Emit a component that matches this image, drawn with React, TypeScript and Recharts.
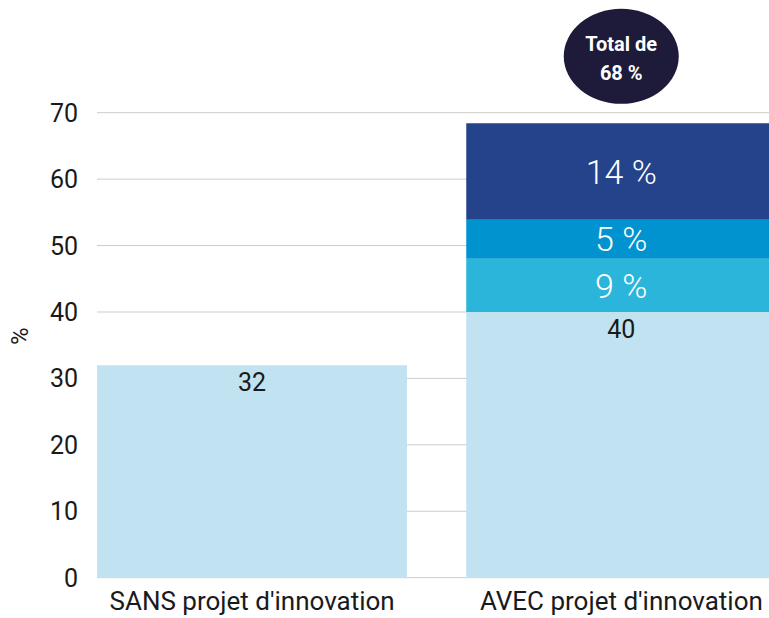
import React from 'react';
import { BarChart, Bar, XAxis, YAxis, CartesianGrid, LabelList } from 'recharts';

const categories = ["SANS projet d'innovation", "AVEC projet d'innovation"];
const baseValues = [32, 40];
const segAValues: (number | null)[] = [null, 8];
const segBValues: (number | null)[] = [null, 5.9];
const segCValues: (number | null)[] = [null, 14.5];
const segALabels: (number | null)[] = [null, 9];
const segBLabels: (number | null)[] = [null, 5];
const segCLabels: (number | null)[] = [null, 14];
const yTicks = [0, 10, 20, 30, 40, 50, 60, 70];

const data = categories.map((cat, i) => ({
  cat,
  base: baseValues[i],
  a: segAValues[i],
  b: segBValues[i],
  c: segCValues[i],
  aL: segALabels[i],
  bL: segBLabels[i],
  cL: segCLabels[i],
  total:
    segCLabels[i] == null
      ? null
      : baseValues[i] + (segALabels[i] ?? 0) + (segBLabels[i] ?? 0) + (segCLabels[i] ?? 0),
}));

const TEXT = '#1a1a1a';

function box(props: any) {
  const v = props.viewBox && props.viewBox.width != null ? props.viewBox : props;
  return { x: Number(v.x), y: Number(v.y), width: Number(v.width), height: Number(v.height) };
}

const BaseLabel = (props: any) => {
  if (props.value == null) return null;
  const b = box(props);
  return (
    <text x={b.x + b.width / 2} y={b.y + 26} textAnchor="middle" fontSize={25} fill={TEXT}>
      {props.value}
    </text>
  );
};

const SegLabel = (props: any) => {
  if (props.value == null) return null;
  const b = box(props);
  return (
    <text
      x={b.x + b.width / 2}
      y={b.y + b.height / 2}
      dy="0.36em"
      textAnchor="middle"
      fontSize={34}
      fontWeight={300}
      fill="#ffffff"
    >
      {props.value} %
    </text>
  );
};

const TotalBubble = (props: any) => {
  if (props.value == null) return null;
  const b = box(props);
  const cx = b.x + b.width / 2;
  const cy = b.y - 67;
  return (
    <g>
      <ellipse cx={cx} cy={cy} rx={57.5} ry={47.5} fill="#1d1a3a" />
      <text x={cx} y={cy - 13} dy="0.36em" textAnchor="middle" fontSize={20} fontWeight={700} fill="#ffffff">
        Total de
      </text>
      <text x={cx} y={cy + 16} dy="0.36em" textAnchor="middle" fontSize={20} fontWeight={700} fill="#ffffff">
        {props.value} %
      </text>
    </g>
  );
};

const YTick = (props: any) => {
  const { x, y, payload } = props;
  return (
    <text x={x + 10.5} y={y} dy="0.36em" textAnchor="end" fontSize={25} fill={TEXT}>
      {payload.value}
    </text>
  );
};

const YLabel = (props: any) => {
  const vb = props.viewBox;
  const x = vb.x + 19;
  const y = vb.y + vb.height / 2 - 9;
  return (
    <text x={x} y={y} dy="0.36em" textAnchor="middle" fontSize={24} fill={TEXT} transform={`rotate(-90, ${x}, ${y})`}>
      %
    </text>
  );
};

export default function App() {
  return (
    <div
      style={{
        position: 'absolute',
        left: 0,
        top: 0,
        width: 769,
        height: 618,
        overflow: 'hidden',
        background: '#ffffff',
        fontFamily: 'Roboto, sans-serif',
      }}
    >
      <BarChart
        width={806}
        height={618}
        data={data}
        margin={{ top: 112.7, right: 0, bottom: 0, left: 0 }}
        barCategoryGap={29.5}
      >
        <CartesianGrid vertical={false} stroke="#cccccc" x={97} width={700} />
        <XAxis
          dataKey="cat"
          axisLine={false}
          tickLine={false}
          tickSize={0}
          tickMargin={14}
          height={40.3}
          interval={0}
          tick={{ fontSize: 26, fill: TEXT }}
        />
        <YAxis
          domain={[0, 70]}
          ticks={yTicks}
          width={67.5}
          axisLine={false}
          tickLine={false}
          tickSize={0}
          tickMargin={0}
          tick={<YTick />}
          label={<YLabel />}
        />
        <Bar dataKey="base" stackId="s" fill="#c1e2f1" isAnimationActive={false}>
          <LabelList dataKey="base" content={<BaseLabel />} />
        </Bar>
        <Bar dataKey="a" stackId="s" fill="#2bb5da" isAnimationActive={false}>
          <LabelList dataKey="aL" content={<SegLabel />} />
        </Bar>
        <Bar dataKey="b" stackId="s" fill="#0093d0" isAnimationActive={false}>
          <LabelList dataKey="bL" content={<SegLabel />} />
        </Bar>
        <Bar dataKey="c" stackId="s" fill="#24438a" isAnimationActive={false}>
          <LabelList dataKey="cL" content={<SegLabel />} />
          <LabelList dataKey="total" content={<TotalBubble />} />
        </Bar>
      </BarChart>
    </div>
  );
}
